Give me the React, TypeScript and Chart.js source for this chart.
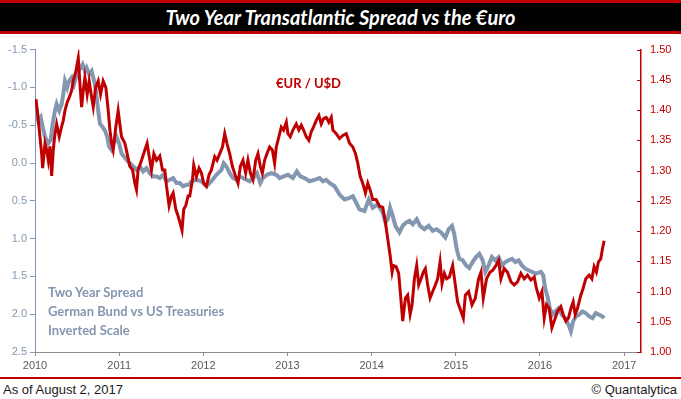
import React, { useEffect, useRef } from "react";
import { Chart, registerables } from "chart.js";

Chart.register(...registerables);

const RED = "#C00000";
const GRAY = "#8497B0";
const AXIS_GRAY = "#8C8C8C";

const chartTitle = "Two Year Transatlantic Spread vs the €uro";
const eurLabel = "€UR / U$D";
const spreadLabelLines = ["Two Year Spread", "German Bund vs US Treasuries", "Inverted Scale"];
const footerLeft = "As of August 2, 2017";
const footerRight = "© Quantalytica";

const xYearMin = 2010;
const xYearMax = 2017.2;
const spreadTickMin = -1.5;
const spreadTickMax = 2.5;
const eurTickMin = 1.0;
const eurTickMax = 1.5;

const eurDates = [
  2010.012, 2010.027, 2010.051, 2010.079, 2010.091, 2010.119, 2010.139, 2010.158, 2010.178, 2010.198,
  2010.217, 2010.237, 2010.257, 2010.288, 2010.317, 2010.336, 2010.356, 2010.383, 2010.407, 2010.435,
  2010.454, 2010.486, 2010.514, 2010.534, 2010.554, 2010.573, 2010.593, 2010.620, 2010.644, 2010.673,
  2010.692, 2010.720, 2010.751, 2010.779, 2010.810, 2010.842, 2010.870, 2010.890, 2010.910, 2010.929,
  2010.961, 2010.988, 2011.008, 2011.028, 2011.068, 2011.095, 2011.127, 2011.159, 2011.186, 2011.206,
  2011.225, 2011.266, 2011.305, 2011.332, 2011.356, 2011.384, 2011.412, 2011.444, 2011.483, 2011.515,
  2011.542, 2011.562, 2011.593, 2011.622, 2011.641, 2011.673, 2011.700, 2011.728, 2011.747, 2011.767,
  2011.791, 2011.819, 2011.839, 2011.871, 2011.886, 2011.918, 2011.949, 2011.977, 2012.005, 2012.037,
  2012.068, 2012.096, 2012.135, 2012.163, 2012.195, 2012.227, 2012.254, 2012.281, 2012.313, 2012.345,
  2012.384, 2012.412, 2012.440, 2012.471, 2012.503, 2012.530, 2012.559, 2012.590, 2012.622, 2012.649,
  2012.677, 2012.701, 2012.728, 2012.756, 2012.788, 2012.820, 2012.847, 2012.867, 2012.898, 2012.926,
  2012.954, 2012.986, 2013.005, 2013.033, 2013.064, 2013.104, 2013.135, 2013.164, 2013.191, 2013.223,
  2013.254, 2013.282, 2013.310, 2013.342, 2013.373, 2013.401, 2013.428, 2013.460, 2013.491, 2013.520,
  2013.539, 2013.579, 2013.618, 2013.657, 2013.698, 2013.737, 2013.776, 2013.808, 2013.835, 2013.864,
  2013.894, 2013.926, 2013.954, 2013.982, 2014.013, 2014.053, 2014.093, 2014.132, 2014.164, 2014.191,
  2014.219, 2014.243, 2014.259, 2014.291, 2014.321, 2014.350, 2014.369, 2014.401, 2014.428, 2014.457,
  2014.480, 2014.508, 2014.535, 2014.559, 2014.587, 2014.614, 2014.638, 2014.665, 2014.694, 2014.725,
  2014.757, 2014.784, 2014.813, 2014.836, 2014.864, 2014.891, 2014.923, 2014.962, 2014.994, 2015.021,
  2015.062, 2015.089, 2015.113, 2015.152, 2015.192, 2015.231, 2015.270, 2015.299, 2015.326, 2015.365,
  2015.406, 2015.437, 2015.477, 2015.508, 2015.536, 2015.575, 2015.614, 2015.655, 2015.694, 2015.733,
  2015.773, 2015.813, 2015.852, 2015.892, 2015.931, 2015.958, 2015.991, 2016.023, 2016.050, 2016.077,
  2016.109, 2016.141, 2016.168, 2016.208, 2016.248, 2016.275, 2016.307, 2016.338, 2016.367, 2016.394,
  2016.418, 2016.445, 2016.485, 2016.512, 2016.544, 2016.584, 2016.616, 2016.643, 2016.670, 2016.694,
  2016.722, 2016.741, 2016.762,
];

const eurValues = [
  1.418, 1.399, 1.367, 1.328, 1.304, 1.345, 1.334, 1.317, 1.340, 1.291,
  1.334, 1.361, 1.377, 1.356, 1.373, 1.383, 1.399, 1.413, 1.421, 1.432,
  1.448, 1.465, 1.486, 1.443, 1.405, 1.432, 1.454, 1.426, 1.448, 1.421,
  1.405, 1.437, 1.448, 1.426, 1.448, 1.437, 1.399, 1.367, 1.345, 1.334,
  1.373, 1.399, 1.377, 1.356, 1.345, 1.328, 1.307, 1.301, 1.279, 1.268,
  1.301, 1.317, 1.334, 1.345, 1.324, 1.301, 1.328, 1.317, 1.324, 1.301,
  1.301, 1.275, 1.242, 1.258, 1.263, 1.236, 1.225, 1.211, 1.201, 1.236,
  1.242, 1.258, 1.258, 1.285, 1.309, 1.290, 1.304, 1.296, 1.279, 1.274,
  1.293, 1.301, 1.323, 1.317, 1.328, 1.339, 1.361, 1.345, 1.328, 1.307,
  1.290, 1.279, 1.307, 1.317, 1.296, 1.317, 1.296, 1.285, 1.317, 1.328,
  1.307, 1.296, 1.317, 1.328, 1.339, 1.334, 1.312, 1.339, 1.356, 1.372,
  1.367, 1.380, 1.361, 1.356, 1.367, 1.377, 1.367, 1.375, 1.367, 1.356,
  1.350, 1.364, 1.372, 1.383, 1.391, 1.377, 1.386, 1.388, 1.380, 1.388,
  1.367, 1.361, 1.353, 1.358, 1.361, 1.345, 1.339, 1.328, 1.312, 1.290,
  1.279, 1.263, 1.279, 1.268, 1.252, 1.252, 1.241, 1.239, 1.214, 1.187,
  1.160, 1.132, 1.143, 1.141, 1.130, 1.083, 1.051, 1.089, 1.094, 1.062,
  1.078, 1.121, 1.143, 1.111, 1.121, 1.132, 1.138, 1.111, 1.089, 1.100,
  1.111, 1.121, 1.149, 1.113, 1.130, 1.121, 1.124, 1.143, 1.111, 1.083,
  1.067, 1.056, 1.094, 1.100, 1.078, 1.089, 1.121, 1.132, 1.089, 1.121,
  1.132, 1.135, 1.143, 1.151, 1.121, 1.138, 1.132, 1.116, 1.111, 1.116,
  1.130, 1.121, 1.127, 1.119, 1.124, 1.105, 1.089, 1.100, 1.056, 1.078,
  1.072, 1.040, 1.051, 1.067, 1.075, 1.062, 1.051, 1.056, 1.072, 1.083,
  1.062, 1.072, 1.094, 1.105, 1.121, 1.127, 1.121, 1.141, 1.132, 1.149,
  1.154, 1.170, 1.184,
];

const spreadDates = [
  2010.012, 2010.039, 2010.068, 2010.091, 2010.119, 2010.158, 2010.186, 2010.210, 2010.237, 2010.257,
  2010.288, 2010.317, 2010.336, 2010.356, 2010.383, 2010.407, 2010.435, 2010.463, 2010.486, 2010.514,
  2010.542, 2010.566, 2010.593, 2010.613, 2010.644, 2010.673, 2010.692, 2010.712, 2010.732, 2010.751,
  2010.771, 2010.803, 2010.830, 2010.858, 2010.881, 2010.910, 2010.937, 2010.969, 2011.000, 2011.028,
  2011.059, 2011.088, 2011.127, 2011.166, 2011.206, 2011.246, 2011.285, 2011.325, 2011.364, 2011.403,
  2011.444, 2011.483, 2011.522, 2011.562, 2011.601, 2011.641, 2011.681, 2011.720, 2011.759, 2011.800,
  2011.830, 2011.859, 2011.918, 2011.977, 2012.037, 2012.096, 2012.155, 2012.215, 2012.242, 2012.274,
  2012.313, 2012.352, 2012.393, 2012.432, 2012.471, 2012.511, 2012.550, 2012.590, 2012.637, 2012.677,
  2012.708, 2012.756, 2012.808, 2012.867, 2012.906, 2012.954, 2013.005, 2013.064, 2013.111, 2013.152,
  2013.203, 2013.262, 2013.321, 2013.381, 2013.420, 2013.460, 2013.499, 2013.559, 2013.618, 2013.677,
  2013.737, 2013.776, 2013.816, 2013.855, 2013.915, 2013.966, 2014.013, 2014.072, 2014.132, 2014.164,
  2014.191, 2014.219, 2014.250, 2014.282, 2014.330, 2014.369, 2014.409, 2014.448, 2014.488, 2014.535,
  2014.575, 2014.626, 2014.677, 2014.725, 2014.772, 2014.824, 2014.875, 2014.915, 2014.955, 2014.982,
  2015.010, 2015.041, 2015.081, 2015.121, 2015.160, 2015.199, 2015.240, 2015.279, 2015.318, 2015.350,
  2015.389, 2015.429, 2015.468, 2015.508, 2015.548, 2015.587, 2015.626, 2015.667, 2015.706, 2015.745,
  2015.785, 2015.824, 2015.864, 2015.904, 2015.951, 2016.011, 2016.038, 2016.062, 2016.089, 2016.117,
  2016.148, 2016.180, 2016.219, 2016.260, 2016.299, 2016.338, 2016.367, 2016.394, 2016.426, 2016.465,
  2016.504, 2016.544, 2016.584, 2016.623, 2016.663, 2016.702, 2016.741, 2016.762,
];

const spreadValues = [
  -0.738, -0.563, -0.607, -0.476, -0.346, -0.258, -0.301, -0.520, -0.693, -0.781,
  -0.693, -0.781, -0.912, -1.086, -0.999, -1.086, -1.130, -1.042, -1.130, -1.216,
  -1.261, -1.304, -1.216, -1.261, -1.173, -1.216, -1.130, -1.042, -0.869, -0.693,
  -0.520, -0.476, -0.432, -0.346, -0.215, -0.171, -0.258, -0.346, -0.258, -0.127,
  -0.084, -0.040, 0.003, 0.046, 0.091, 0.046, 0.112, 0.069, 0.134, 0.177,
  0.177, 0.199, 0.156, 0.242, 0.222, 0.199, 0.265, 0.265, 0.308, 0.287,
  0.287, 0.242, 0.222, 0.242, 0.308, 0.242, 0.156, 0.091, 0.003, 0.046,
  0.134, 0.199, 0.222, 0.177, 0.199, 0.222, 0.242, 0.199, 0.134, 0.265,
  0.199, 0.156, 0.134, 0.156, 0.199, 0.177, 0.156, 0.199, 0.112, 0.177,
  0.199, 0.242, 0.222, 0.199, 0.242, 0.222, 0.265, 0.308, 0.418, 0.483,
  0.461, 0.439, 0.526, 0.614, 0.635, 0.483, 0.592, 0.548, 0.657, 0.788,
  0.744, 0.592, 0.700, 0.831, 0.918, 0.831, 0.788, 0.765, 0.810, 0.744,
  0.831, 0.875, 0.831, 0.896, 0.875, 0.918, 0.984, 0.875, 0.831, 0.944,
  1.137, 1.267, 1.284, 1.354, 1.389, 1.310, 1.245, 1.202, 1.284, 1.441,
  1.354, 1.245, 1.288, 1.245, 1.354, 1.310, 1.288, 1.267, 1.310, 1.288,
  1.354, 1.398, 1.419, 1.441, 1.463, 1.441, 1.484, 1.659, 1.768, 1.921,
  2.007, 1.964, 1.921, 2.007, 2.052, 2.138, 2.225, 2.095, 2.029, 2.007,
  1.964, 1.986, 2.029, 2.052, 1.986, 2.007, 2.029, 2.052,
];

export default function App() {
  const canvasRef = useRef<HTMLCanvasElement | null>(null);

  useEffect(() => {
    const canvas = canvasRef.current;
    if (!canvas) return;

    const rightInnerTicks = {
      id: "rightInnerTicks",
      afterDraw(chart: any) {
        const s = chart.scales.y2;
        const c = chart.ctx;
        c.save();
        c.strokeStyle = RED;
        c.lineWidth = 1;
        s.ticks.forEach((t: any) => {
          const y = Math.round(s.getPixelForValue(t.value)) + 0.5;
          c.beginPath();
          c.moveTo(s.left - 4, y);
          c.lineTo(s.left, y);
          c.stroke();
        });
        c.restore();
      },
    };

    const tickFont = { family: "'Liberation Sans', Arial, sans-serif", size: 11 };

    const chart = new Chart(canvas, {
      type: "line",
      data: {
        datasets: [
          {
            label: "EUR/USD",
            data: eurDates.map((d, i) => ({ x: d, y: eurValues[i] })),
            yAxisID: "y2",
            borderColor: RED,
            borderWidth: 3,
            pointRadius: 0,
            tension: 0,
            fill: false,
          },
          {
            label: "Two Year Spread",
            data: spreadDates.map((d, i) => ({ x: d, y: spreadValues[i] })),
            yAxisID: "y",
            borderColor: GRAY,
            borderWidth: 4,
            pointRadius: 0,
            tension: 0,
            fill: false,
          },
        ],
      },
      options: {
        animation: false,
        responsive: false,
        maintainAspectRatio: false,
        layout: { padding: { top: 12, left: 0, right: 0, bottom: 0 } },
        plugins: { legend: { display: false }, tooltip: { enabled: false } },
        scales: {
          x: {
            type: "linear",
            min: xYearMin,
            max: xYearMax,
            afterFit: (s: any) => {
              s.height = 25;
            },
            ticks: {
              stepSize: 1,
              includeBounds: false,
              maxRotation: 0,
              autoSkip: false,
              callback: (v: any) => String(v),
              color: "#595959",
              font: tickFont,
              padding: 3,
            },
            grid: { drawOnChartArea: false, tickLength: 4, color: AXIS_GRAY },
            border: { color: AXIS_GRAY, width: 1 },
          },
          y: {
            type: "linear",
            position: "left",
            reverse: true,
            min: spreadTickMin,
            max: spreadTickMax,
            afterFit: (s: any) => {
              s.width = 35;
            },
            ticks: {
              stepSize: 0.5,
              callback: (v: any) => Number(v).toFixed(1),
              color: GRAY,
              font: tickFont,
              padding: 3,
            },
            grid: { drawOnChartArea: false, tickLength: 5, color: GRAY },
            border: { color: GRAY, width: 1 },
          },
          y2: {
            type: "linear",
            position: "right",
            min: eurTickMin,
            max: eurTickMax,
            afterFit: (s: any) => {
              s.width = 40;
            },
            ticks: {
              stepSize: 0.05,
              callback: (v: any) => Number(v).toFixed(2),
              color: RED,
              font: tickFont,
              padding: 9,
            },
            grid: { drawOnChartArea: false, drawTicks: false },
            border: { color: RED, width: 1.5 },
          },
        },
      },
      plugins: [rightInnerTicks],
    } as any);

    return () => chart.destroy();
  }, []);

  return (
    <div
      style={{
        position: "fixed",
        left: 0,
        top: 0,
        width: 681,
        height: 399,
        background: "#fff",
        overflow: "hidden",
      }}
    >
      <div
        style={{
          position: "absolute",
          left: 0,
          top: 0,
          width: 681,
          height: 34,
          boxSizing: "border-box",
          borderTop: `3px solid ${RED}`,
          borderBottom: `3px solid ${RED}`,
          background: "#000",
          color: "#fff",
          textAlign: "center",
          fontFamily: "Lato, 'Open Sans', sans-serif",
          fontStyle: "italic",
          fontWeight: 700,
          fontSize: 20,
          lineHeight: "28px",
        }}
      >
        {chartTitle}
      </div>
      <canvas
        ref={canvasRef}
        width={681}
        height={343}
        style={{ position: "absolute", left: 0, top: 34, width: 681, height: 343, display: "block" }}
      />
      <div
        style={{
          position: "absolute",
          left: 276,
          top: 75,
          color: RED,
          fontFamily: "Lato, 'Open Sans', sans-serif",
          fontWeight: 700,
          fontSize: 13,
          lineHeight: "16px",
          whiteSpace: "nowrap",
        }}
      >
        {eurLabel}
      </div>
      <div
        style={{
          position: "absolute",
          left: 48,
          top: 282.5,
          color: GRAY,
          fontFamily: "Lato, 'Open Sans', sans-serif",
          fontWeight: 700,
          fontSize: 13,
          lineHeight: "19px",
          whiteSpace: "nowrap",
        }}
      >
        {spreadLabelLines.map((l) => (
          <div key={l}>{l}</div>
        ))}
      </div>
      <div
        style={{ position: "absolute", left: 0, top: 377, width: 681, height: 2, background: RED }}
      />
      <div
        style={{
          position: "absolute",
          left: 3,
          top: 382,
          color: "#1a1a1a",
          fontFamily: "'Liberation Sans', Arial, sans-serif",
          fontSize: 13,
          lineHeight: "16px",
          whiteSpace: "nowrap",
        }}
      >
        {footerLeft}
      </div>
      <div
        style={{
          position: "absolute",
          right: 4,
          top: 382,
          color: "#1a1a1a",
          fontFamily: "'Liberation Sans', Arial, sans-serif",
          fontSize: 13,
          lineHeight: "16px",
          whiteSpace: "nowrap",
        }}
      >
        {footerRight}
      </div>
    </div>
  );
}
